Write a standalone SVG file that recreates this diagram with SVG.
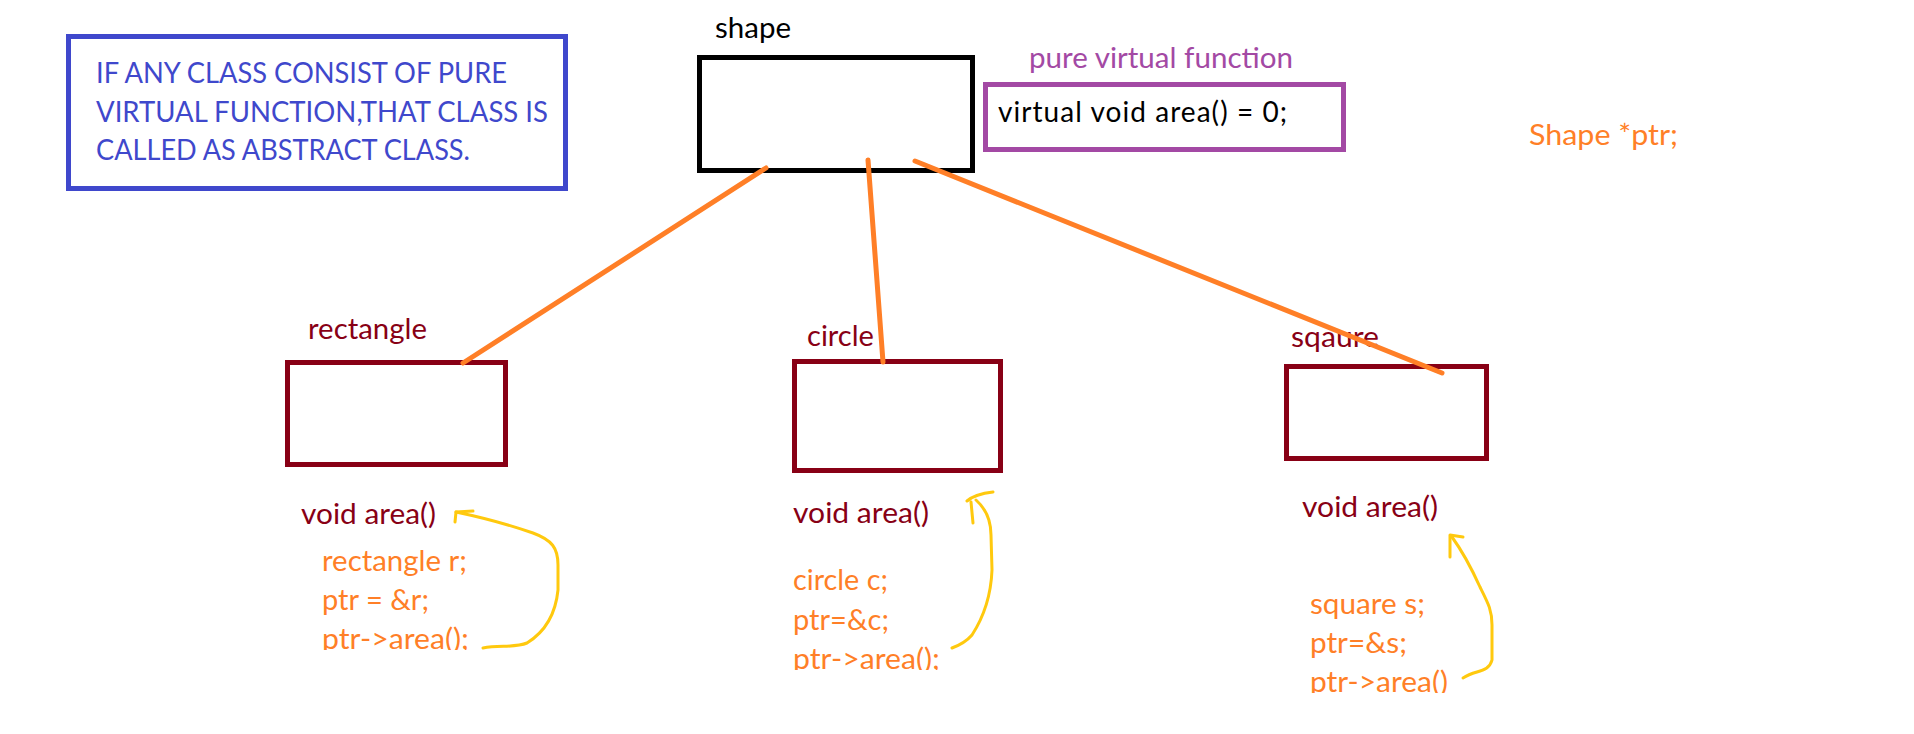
<svg xmlns="http://www.w3.org/2000/svg" width="1914" height="734" viewBox="0 0 1914 734">
<style>
text{font-family:Lato,"Liberation Sans",Arial,sans-serif;font-size:28px}
.blue{fill:#3F48CC}
.blk{fill:#000}
.pur{fill:#A349A4}
.red{fill:#880015}
.org{fill:#FF7F27}
.box{fill:none;stroke-width:5}
.conn{stroke:#FF7F27;stroke-width:5;stroke-linecap:round;fill:none}
.hand{stroke:#FFC90E;stroke-width:3;stroke-linecap:round;stroke-linejoin:round;fill:none}
</style>
<defs>
<clipPath id="clipR"><rect x="0" y="0" width="700" height="650"/></clipPath>
<clipPath id="clipC"><rect x="700" y="0" width="400" height="670"/></clipPath>
<clipPath id="clipS"><rect x="1200" y="0" width="400" height="693"/></clipPath>
</defs>
<rect width="1914" height="734" fill="#fff"/>

<g id="note-abstract">
<rect class="box" x="68.5" y="36.5" width="497" height="152" stroke="#3F48CC"/>
<text class="blue" x="96" y="83" textLength="411" lengthAdjust="spacingAndGlyphs">IF ANY CLASS CONSIST OF PURE</text>
<text class="blue" x="96" y="122" textLength="452" lengthAdjust="spacingAndGlyphs">VIRTUAL FUNCTION,THAT CLASS IS</text>
<text class="blue" x="96" y="160" textLength="374" lengthAdjust="spacingAndGlyphs">CALLED AS ABSTRACT CLASS.</text>
</g>

<g id="node-shape">
<text class="blk" x="715" y="38" textLength="76" lengthAdjust="spacingAndGlyphs">shape</text>
<rect class="box" x="699.5" y="57.5" width="273" height="113" stroke="#000"/>
</g>

<g id="note-pure-virtual">
<text class="pur" x="1029" y="68" font-size="27" textLength="264" lengthAdjust="spacingAndGlyphs">pure virtual function</text>
<rect class="box" x="985.5" y="84.5" width="358" height="65" stroke="#A349A4"/>
<text class="blk" x="998" y="122" textLength="289" lengthAdjust="spacing">virtual void area() = 0;</text>
</g>

<g id="note-ptr">
<text class="org" x="1529" y="145" textLength="149" lengthAdjust="spacingAndGlyphs">Shape *ptr;</text>
</g>

<g id="node-rectangle">
<text class="red" x="308" y="339" textLength="119" lengthAdjust="spacingAndGlyphs">rectangle</text>
<rect class="box" x="287.5" y="362.5" width="218" height="102" stroke="#880015"/>
<text class="red" x="301" y="524" textLength="135" lengthAdjust="spacingAndGlyphs">void area()</text>
<g clip-path="url(#clipR)">
<text class="org" x="322" y="571" textLength="145" lengthAdjust="spacingAndGlyphs">rectangle r;</text>
<text class="org" x="322" y="610" textLength="107" lengthAdjust="spacingAndGlyphs">ptr = &amp;r;</text>
<text class="org" x="322" y="649" textLength="147" lengthAdjust="spacingAndGlyphs">ptr-&gt;area();</text>
</g>
</g>

<g id="node-circle">
<text class="red" x="807" y="346" textLength="67" lengthAdjust="spacingAndGlyphs">circle</text>
<rect class="box" x="794.5" y="361.5" width="206" height="109" stroke="#880015"/>
<text class="red" x="793" y="523" textLength="136" lengthAdjust="spacingAndGlyphs">void area()</text>
<g clip-path="url(#clipC)">
<text class="org" x="793" y="590" textLength="95" lengthAdjust="spacingAndGlyphs">circle c;</text>
<text class="org" x="793" y="630" textLength="96" lengthAdjust="spacingAndGlyphs">ptr=&amp;c;</text>
<text class="org" x="793" y="669" textLength="147" lengthAdjust="spacingAndGlyphs">ptr-&gt;area();</text>
</g>
</g>

<g id="node-square">
<text class="red" x="1291" y="347" textLength="88" lengthAdjust="spacingAndGlyphs">sqaure</text>
<rect class="box" x="1286.5" y="366.5" width="200" height="92" stroke="#880015"/>
<text class="red" x="1302" y="517" textLength="136" lengthAdjust="spacingAndGlyphs">void area()</text>
<g clip-path="url(#clipS)">
<text class="org" x="1310" y="614" textLength="115" lengthAdjust="spacingAndGlyphs">square s;</text>
<text class="org" x="1310" y="653" textLength="97" lengthAdjust="spacingAndGlyphs">ptr=&amp;s;</text>
<text class="org" x="1310" y="692" textLength="138" lengthAdjust="spacingAndGlyphs">ptr-&gt;area()</text>
</g>
</g>

<g id="connectors">
<line class="conn" x1="766" y1="168" x2="463" y2="363"/>
<line class="conn" x1="868" y1="160" x2="883" y2="362"/>
<line class="conn" x1="915" y1="161" x2="1442" y2="373"/>
</g>

<g id="call-arrows">
<path class="hand" d="M455,522 L456,512 L473,511"/>
<path class="hand" d="M456,512 C475,516 510,525 533,533 C552,540 558,548 558,565 L558,590 C556,610 548,630 527,643 C515,648 500,645 483,648"/>
<path class="hand" d="M973,523 L971,502 M967,501 Q975,494 993,492"/>
<path class="hand" d="M976,500 C985,508 991,518 991,535 L992,570 C991,595 985,615 972,635 C966,642 960,645 952,648"/>
<path class="hand" d="M1450,557 L1450,535 L1463,537"/>
<path class="hand" d="M1452,537 C1460,548 1470,565 1480,587 C1488,603 1492,610 1492,625 L1492,660 C1490,668 1484,670 1477,672 C1470,674 1466,676 1463,678"/>
</g>
</svg>
